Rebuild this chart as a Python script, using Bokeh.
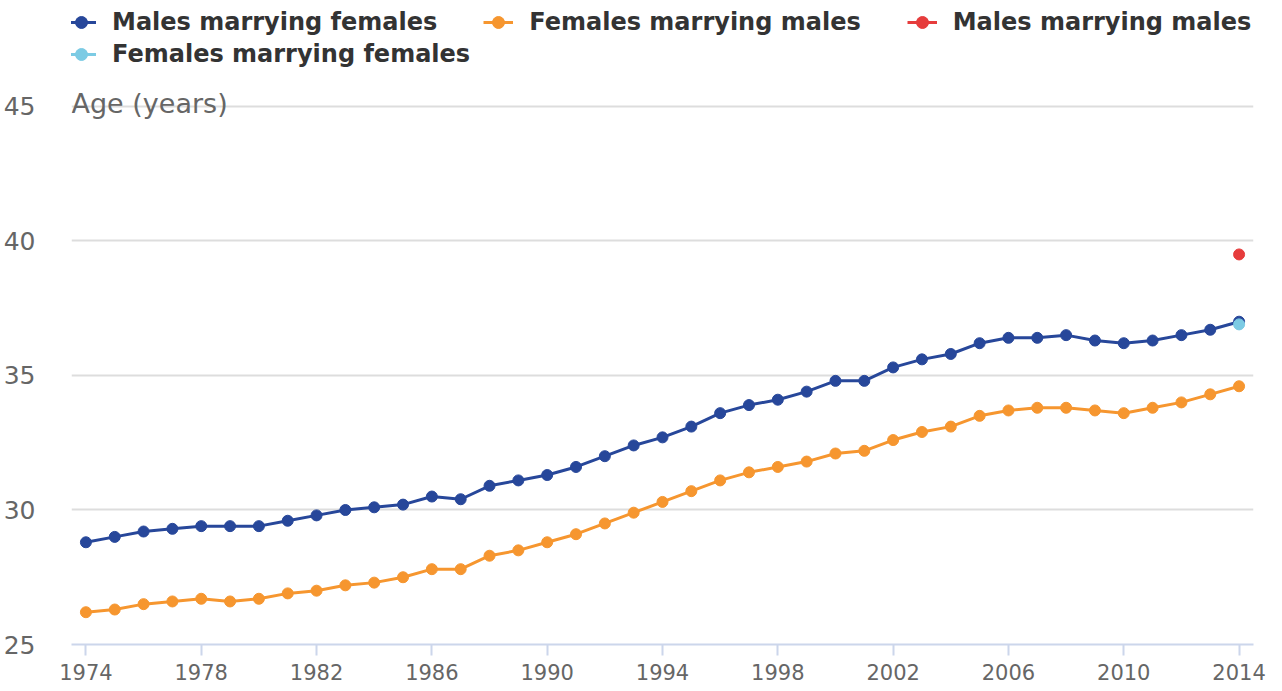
from bokeh.plotting import figure
from bokeh.models import (Range1d, FixedTicker, Legend, LegendItem, Label)
from bokeh.embed import file_html
from bokeh.resources import INLINE

years = list(range(1974, 2015))
males_marrying_females = [28.8, 29.0, 29.2, 29.3, 29.4, 29.4, 29.4, 29.6, 29.8, 30.0,
                          30.1, 30.2, 30.5, 30.4, 30.9, 31.1, 31.3, 31.6, 32.0, 32.4,
                          32.7, 33.1, 33.6, 33.9, 34.1, 34.4, 34.8, 34.8, 35.3, 35.6,
                          35.8, 36.2, 36.4, 36.4, 36.5, 36.3, 36.2, 36.3, 36.5, 36.7,
                          37.0]
females_marrying_males = [26.2, 26.3, 26.5, 26.6, 26.7, 26.6, 26.7, 26.9, 27.0, 27.2,
                          27.3, 27.5, 27.8, 27.8, 28.3, 28.5, 28.8, 29.1, 29.5, 29.9,
                          30.3, 30.7, 31.1, 31.4, 31.6, 31.8, 32.1, 32.2, 32.6, 32.9,
                          33.1, 33.5, 33.7, 33.8, 33.8, 33.7, 33.6, 33.8, 34.0, 34.3,
                          34.6]
same_sex_years = [2014]
males_marrying_males = [39.5]
females_marrying_females = [36.9]

x_ticks = list(range(1974, 2015, 4))
y_ticks = [25, 30, 35, 40, 45]

FONT = "DejaVu Sans"
BLUE = "#27479a"
ORANGE = "#f6962f"
RED = "#e63c3c"
LIGHTBLUE = "#7ccbe4"

# frame extends above the top gridline so that legend and axis title sit inside it
p = figure(width=1266, height=683, output_backend="svg", toolbar_location=None,
           x_range=Range1d(1973.5, 2014.5), y_range=Range1d(25, 48.94),
           min_border_left=65, min_border_right=13, min_border_top=0,
           min_border_bottom=39)
p.outline_line_color = None
p.background_fill_color = "white"
p.border_fill_color = "white"

# axes
p.xaxis.ticker = FixedTicker(ticks=x_ticks)
p.xaxis.axis_line_color = "#ccd6eb"
p.xaxis.axis_line_width = 2
p.xaxis.major_tick_line_color = "#ccd6eb"
p.xaxis.major_tick_line_width = 2
p.xaxis.major_tick_out = 11
p.xaxis.major_tick_in = 0
p.xaxis.minor_tick_line_color = None
p.xaxis.major_label_text_font = FONT
p.xaxis.major_label_text_font_size = "21px"
p.xaxis.major_label_text_color = "#666666"
p.xaxis.major_label_standoff = 8

p.yaxis.ticker = FixedTicker(ticks=y_ticks)
p.yaxis.axis_line_color = None
p.yaxis.major_tick_line_color = None
p.yaxis.minor_tick_line_color = None
p.yaxis.major_label_text_font = FONT
p.yaxis.major_label_text_font_size = "25px"
p.yaxis.major_label_text_color = "#666666"
p.yaxis.major_label_standoff = 30

p.xgrid.grid_line_color = None
p.ygrid.ticker = FixedTicker(ticks=y_ticks)
p.ygrid.grid_line_color = "#dddddd"
p.ygrid.grid_line_width = 2

# series
l1 = p.line(years, males_marrying_females, line_color=BLUE, line_width=3)
s1 = p.scatter(years, males_marrying_females, size=11, fill_color=BLUE, line_color=BLUE)
l2 = p.line(years, females_marrying_males, line_color=ORANGE, line_width=3)
s2 = p.scatter(years, females_marrying_males, size=11, fill_color=ORANGE, line_color=ORANGE)
l3 = p.line(same_sex_years, males_marrying_males, line_color=RED, line_width=3)
s3 = p.scatter(same_sex_years, males_marrying_males, size=11, fill_color=RED, line_color=RED)
l4 = p.line(same_sex_years, females_marrying_females, line_color=LIGHTBLUE, line_width=3)
s4 = p.scatter(same_sex_years, females_marrying_females, size=11, fill_color=LIGHTBLUE, line_color=LIGHTBLUE)


def make_legend(items, loc):
    lg = Legend(items=items, orientation="horizontal", location=loc)
    lg.label_text_font = FONT
    lg.label_text_font_style = "bold"
    lg.label_text_font_size = "24px"
    lg.label_text_color = "#333333"
    lg.glyph_width = 30
    lg.glyph_height = 30
    lg.label_height = 30
    lg.label_standoff = 16
    lg.spacing = 46
    lg.padding = 0
    lg.margin = 0
    lg.border_line_color = None
    lg.background_fill_alpha = 0
    return lg


legend1 = make_legend([
    LegendItem(label="Males marrying females", renderers=[l1, s1]),
    LegendItem(label="Females marrying males", renderers=[l2, s2]),
    LegendItem(label="Males marrying males", renderers=[l3, s3]),
], (-5, 607))
legend2 = make_legend([
    LegendItem(label="Females marrying females", renderers=[l4, s4]),
], (-5, 575))
p.add_layout(legend1, "center")
p.add_layout(legend2, "center")

p.add_layout(Label(x=1973.5, y=45, y_offset=3, text="Age (years)",
                   text_font=FONT, text_font_size="27px", text_color="#666666",
                   text_baseline="alphabetic", text_align="left"))

open("out.html", "w").write(file_html(p, INLINE))
